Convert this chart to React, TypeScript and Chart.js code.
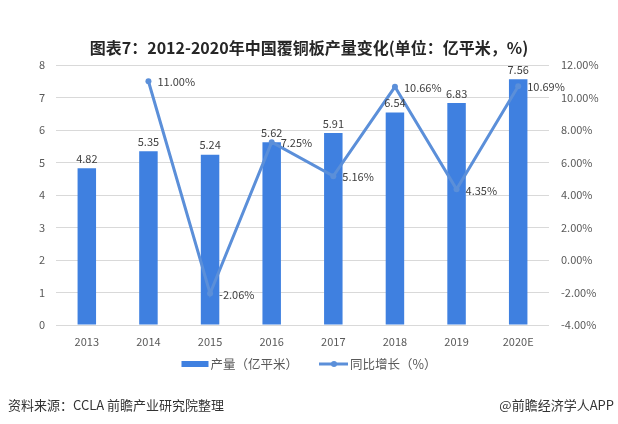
import React, { useEffect, useRef } from "react";
import { Chart, registerables } from "chart.js";

Chart.register(...registerables);

const categories = ["2013", "2014", "2015", "2016", "2017", "2018", "2019", "2020E"];
const output = [4.82, 5.35, 5.24, 5.62, 5.91, 6.54, 6.83, 7.56];
const growth: (number | null)[] = [null, 11.0, -2.06, 7.25, 5.16, 10.66, 4.35, 10.69];
const leftTicks = [0, 1, 2, 3, 4, 5, 6, 7, 8];
const rightTicks = [-4, -2, 0, 2, 4, 6, 8, 10, 12];
const seriesNames = ["产量（亿平米）", "同比增长（%）"];

const FONT = "'Noto Sans CJK SC', 'Noto Sans', sans-serif";
const TEXT = "#595959";
const BAR = "#3f80e0";
const LINE = "#5b8fd9";

const labelPlugin = {
  id: "valueLabels",
  afterDatasetsDraw(chart: any) {
    const ctx = chart.ctx;
    ctx.save();
    ctx.font = `11px ${FONT}`;
    ctx.fillStyle = "#404040";
    const barMeta = chart.getDatasetMeta(0);
    barMeta.data.forEach((el: any, i: number) => {
      ctx.textAlign = "center";
      ctx.textBaseline = "bottom";
      ctx.fillText(output[i].toFixed(2), el.x, el.y - 4);
    });
    const lineMeta = chart.getDatasetMeta(1);
    lineMeta.data.forEach((el: any, i: number) => {
      const v = growth[i];
      if (v === null || v === undefined) return;
      ctx.textAlign = "left";
      ctx.textBaseline = "middle";
      ctx.fillText(v.toFixed(2) + "%", el.x + 9, el.y + 1);
    });
    ctx.restore();
  },
  afterDraw(chart: any) {
    // legend
    const ctx = chart.ctx;
    ctx.save();
    const cy = 364;
    ctx.font = `12.5px ${FONT}`;
    ctx.fillStyle = TEXT;
    ctx.textBaseline = "middle";
    ctx.textAlign = "left";
    const w0 = ctx.measureText(seriesNames[0]).width;
    const w1 = ctx.measureText(seriesNames[1]).width;
    const boxW = 27;
    const gap = 2;
    const itemGap = 21;
    const total = boxW + gap + w0 + itemGap + 29 + gap + w1;
    let x = (chart.width - total) / 2;
    ctx.fillStyle = BAR;
    ctx.fillRect(x, cy - 3, boxW, 6);
    x += boxW + gap;
    ctx.fillStyle = TEXT;
    ctx.fillText(seriesNames[0], x, cy);
    x += w0 + itemGap;
    ctx.strokeStyle = LINE;
    ctx.lineWidth = 3;
    ctx.beginPath();
    ctx.moveTo(x, cy);
    ctx.lineTo(x + 29, cy);
    ctx.stroke();
    ctx.fillStyle = LINE;
    ctx.beginPath();
    ctx.arc(x + 15, cy, 3, 0, Math.PI * 2);
    ctx.fill();
    x += 29 + gap;
    ctx.fillStyle = TEXT;
    ctx.fillText(seriesNames[1], x, cy);
    ctx.restore();
  },
};

export default function App() {
  const ref = useRef<HTMLCanvasElement | null>(null);
  useEffect(() => {
    if (!ref.current) return;
    const chart = new Chart(ref.current, {
      type: "bar",
      data: {
        labels: categories,
        datasets: [
          {
            type: "bar",
            label: seriesNames[0],
            data: output,
            backgroundColor: BAR,
            borderWidth: 0,
            barPercentage: 0.6,
            categoryPercentage: 0.5,
            yAxisID: "y",
            order: 2,
          },
          {
            type: "line",
            label: seriesNames[1],
            data: growth,
            borderColor: LINE,
            backgroundColor: LINE,
            borderWidth: 3,
            pointRadius: 3,
            pointBorderWidth: 0,
            pointBackgroundColor: LINE,
            tension: 0,
            spanGaps: false,
            yAxisID: "y1",
            order: 1,
          } as any,
        ],
      },
      options: {
        responsive: false,
        animation: false,
        devicePixelRatio: 1,
        layout: { padding: { top: 65, bottom: 69, left: 0, right: 0 } },
        plugins: {
          legend: { display: false },
          title: { display: false },
          tooltip: { enabled: false },
        },
        scales: {
          x: {
            grid: { display: false, drawTicks: false, tickLength: 0 },
            border: { display: false },
            ticks: { font: { family: FONT, size: 11 }, color: TEXT, padding: 10 },
            afterFit: (s: any) => {
              s.height = 30;
            },
          },
          y: {
            position: "left",
            min: 0,
            max: 8,
            afterBuildTicks: (s: any) => {
              s.ticks = leftTicks.map((v) => ({ value: v }));
            },
            ticks: {
              font: { family: FONT, size: 11 },
              color: TEXT,
              padding: 11,
              callback: (v: any) => String(v),
            },
            grid: { color: "#d9d9d9", drawTicks: false, lineWidth: 1 },
            border: { display: false },
            afterFit: (s: any) => {
              s.width = 56;
            },
          },
          y1: {
            position: "right",
            min: -4,
            max: 12,
            afterBuildTicks: (s: any) => {
              s.ticks = rightTicks.map((v) => ({ value: v }));
            },
            ticks: {
              font: { family: FONT, size: 11 },
              color: TEXT,
              padding: 12,
              callback: (v: any) => Number(v).toFixed(2) + "%",
            },
            grid: { display: false, drawTicks: false },
            border: { display: false },
            afterFit: (s: any) => {
              s.width = 69;
            },
          },
        },
      },
      plugins: [labelPlugin],
    });
    return () => chart.destroy();
  }, []);

  return (
    <div
      style={{
        position: "absolute",
        left: 0,
        top: 0,
        width: 618,
        height: 424,
        background: "#fff",
        fontFamily: FONT,
      }}
    >
      <canvas ref={ref} width={618} height={424} style={{ position: "absolute", left: 0, top: 0 }} />
      <div
        style={{
          position: "absolute",
          left: 0,
          top: 35,
          width: 618,
          textAlign: "center",
          fontSize: 16,
          fontWeight: "bold",
          color: "#262626",
          lineHeight: "24px",
        }}
      >
        图表7：2012-2020年中国覆铜板产量变化(单位：亿平米，%)
      </div>
      <div
        style={{
          position: "absolute",
          left: 8,
          top: 396,
          fontSize: 13,
          color: "#333",
          lineHeight: "18px",
        }}
      >
        资料来源：CCLA 前瞻产业研究院整理
      </div>
      <div
        style={{
          position: "absolute",
          right: 4,
          top: 396,
          fontSize: 13,
          color: "#333",
          lineHeight: "18px",
        }}
      >
        @前瞻经济学人APP
      </div>
    </div>
  );
}
